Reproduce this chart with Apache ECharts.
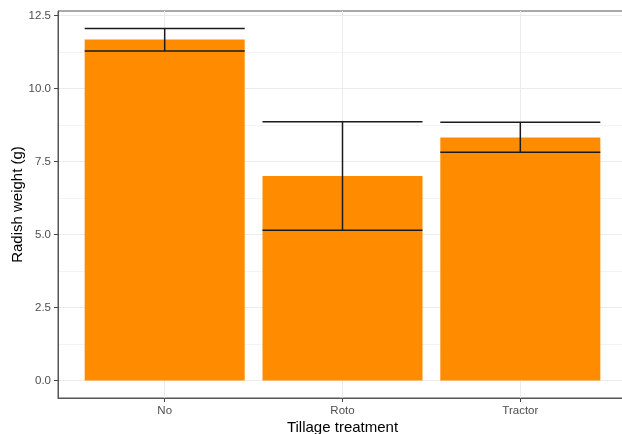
<!DOCTYPE html>
<html>
<head>
<meta charset="utf-8">
<script src="https://cdn.jsdelivr.net/npm/echarts@6/dist/echarts.min.js"></script>
<style>
  html, body { margin: 0; padding: 0; background: #fff; }
  #chart { width: 622px; height: 434px; }
</style>
</head>
<body>
<div id="chart"></div>
<script>
// Mean radish weight per tillage treatment, with error bar limits
const categories = ['No', 'Roto', 'Tractor'];
const meanWeight = [11.67, 7.0, 8.32];
const lowerLimit = [11.28, 5.14, 7.81];
const upperLimit = [12.05, 8.86, 8.84];
const yTicks = [0, 2.5, 5, 7.5, 10, 12.5];
const yMinorTicks = [1.25, 3.75, 6.25, 8.75, 11.25];

const positions = categories.map((c, i) => i + 1);
const barHalf = 0.45;
const font = 'Liberation Sans, Arial, Helvetica, sans-serif';

const chart = echarts.init(document.getElementById('chart'), null, { renderer: 'canvas' });

const barData = positions.map((p, i) => [p, meanWeight[i]]);
const errData = positions.map((p, i) => [p, lowerLimit[i], upperLimit[i]]);

chart.setOption({
  animation: false,
  backgroundColor: '#ffffff',
  grid: {
    left: 58, top: 11, right: -5, bottom: 36,
    outerBoundsMode: 'none', containLabel: false,
    show: true, borderColor: '#555555', borderWidth: 1, backgroundColor: 'transparent'
  },
  xAxis: {
    type: 'value', min: 0.4, max: 3.6,
    name: 'Tillage treatment', nameLocation: 'middle', nameGap: 22, nameMoveOverlap: false,
    nameTextStyle: { color: '#000', fontSize: 15, fontFamily: font },
    axisLine: { show: true, onZero: false, lineStyle: { color: '#555555', width: 1 } },
    axisTick: { show: true, length: 4, customValues: positions, lineStyle: { color: '#444' } },
    axisLabel: {
      customValues: positions, color: '#4d4d4d', fontSize: 11.5, fontFamily: font, margin: 7,
      formatter: v => categories[Math.round(v) - 1] || ''
    },
    splitLine: { show: true, lineStyle: { color: '#ebebeb', width: 1 } }
  },
  yAxis: [{
    type: 'value', min: -0.6, max: 12.65,
    name: 'Radish weight (g)', nameLocation: 'middle', nameGap: 33, nameRotate: 90, nameMoveOverlap: false,
    nameTextStyle: { color: '#000', fontSize: 15, fontFamily: font },
    axisLine: { show: true, onZero: false, lineStyle: { color: '#555555', width: 1 } },
    axisTick: { show: true, length: 4, customValues: yTicks, lineStyle: { color: '#444' } },
    axisLabel: {
      customValues: yTicks, color: '#4d4d4d', fontSize: 11.5, fontFamily: font, margin: 7,
      formatter: v => v.toFixed(1)
    },
    splitLine: { show: true, lineStyle: { color: '#ebebeb', width: 1 } }
  }, {
    type: 'value', min: -0.6, max: 12.65, position: 'left',
    axisLine: { show: false },
    axisTick: { show: false, customValues: yMinorTicks },
    axisLabel: { show: false, customValues: yMinorTicks },
    splitLine: { show: true, lineStyle: { color: '#f3f3f3', width: 1 } }
  }],
  series: [{
    type: 'custom',
    name: 'mean',
    z: 2,
    data: barData,
    renderItem: (params, api) => {
      const x = api.value(0), y = api.value(1);
      const tl = api.coord([x - barHalf, y]);
      const br = api.coord([x + barHalf, 0]);
      return {
        type: 'rect',
        shape: { x: tl[0], y: tl[1], width: br[0] - tl[0], height: br[1] - tl[1] },
        style: { fill: '#ff8c00' }
      };
    }
  }, {
    type: 'custom',
    name: 'error',
    z: 3,
    data: errData,
    renderItem: (params, api) => {
      const x = api.value(0), lo = api.value(1), hi = api.value(2);
      const a = api.coord([x - barHalf, hi]);
      const b = api.coord([x + barHalf, hi]);
      const c = api.coord([x - barHalf, lo]);
      const d = api.coord([x + barHalf, lo]);
      const m1 = api.coord([x, hi]);
      const m2 = api.coord([x, lo]);
      const st = { stroke: '#1a1a1a', lineWidth: 1.5 };
      return {
        type: 'group',
        children: [
          { type: 'line', shape: { x1: a[0], y1: a[1], x2: b[0], y2: b[1] }, style: st },
          { type: 'line', shape: { x1: c[0], y1: c[1], x2: d[0], y2: d[1] }, style: st },
          { type: 'line', shape: { x1: m1[0], y1: m1[1], x2: m2[0], y2: m2[1] }, style: st }
        ]
      };
    }
  }]
});
</script>
</body>
</html>
